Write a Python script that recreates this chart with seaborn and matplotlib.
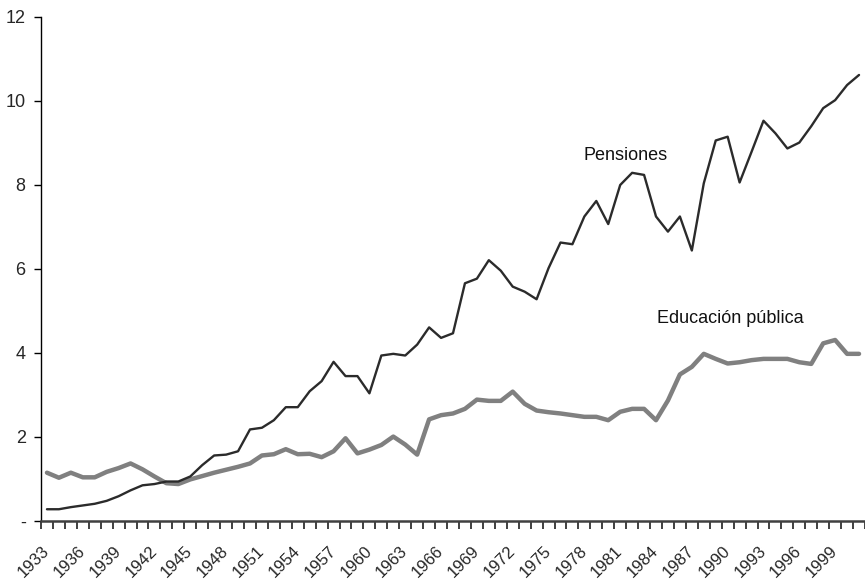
import numpy as np
import pandas as pd
import matplotlib.pyplot as plt
import seaborn as sns
from matplotlib.ticker import FixedLocator

# Data (1933-2001)
years = list(range(1933, 2002))

pensiones = [0.28, 0.28, 0.33, 0.37, 0.41, 0.48, 0.59, 0.73, 0.85, 0.88,
             0.94, 0.94, 1.06, 1.33, 1.56, 1.58, 1.66, 2.18, 2.22, 2.40,
             2.71, 2.71, 3.09, 3.33, 3.79, 3.45, 3.45, 3.04, 3.94, 3.98,
             3.94, 4.20, 4.61, 4.36, 4.47, 5.66, 5.77, 6.21, 5.96, 5.58,
             5.46, 5.28, 6.02, 6.63, 6.59, 7.25, 7.62, 7.07, 8.00, 8.29,
             8.24, 7.25, 6.89, 7.25, 6.44, 8.04, 9.06, 9.15, 8.06, 8.79,
             9.53, 9.23, 8.87, 9.01, 9.40, 9.83, 10.02, 10.38, 10.62]

educacion = [1.15, 1.03, 1.15, 1.04, 1.04, 1.17, 1.26, 1.37, 1.23, 1.06,
             0.90, 0.88, 0.99, 1.07, 1.15, 1.22, 1.29, 1.37, 1.56, 1.59,
             1.71, 1.59, 1.60, 1.52, 1.66, 1.97, 1.61, 1.70, 1.81, 2.01,
             1.82, 1.58, 2.42, 2.52, 2.56, 2.67, 2.89, 2.86, 2.86, 3.08,
             2.79, 2.63, 2.59, 2.56, 2.52, 2.48, 2.48, 2.40, 2.60, 2.67,
             2.67, 2.40, 2.87, 3.49, 3.67, 3.98, 3.86, 3.75, 3.78, 3.83,
             3.86, 3.86, 3.86, 3.78, 3.74, 4.23, 4.31, 3.98, 3.98]

y_ticks = [0, 2, 4, 6, 8, 10, 12]
y_labels = ["-", "2", "4", "6", "8", "10", "12"]
x_label_years = list(range(1933, 2002, 3))

df = pd.DataFrame({"Año": years, "Pensiones": pensiones, "Educación pública": educacion})

sns.set_style("ticks")
plt.rcParams["font.family"] = ["Liberation Sans", "DejaVu Sans"]

fig = plt.figure(figsize=(8.65, 5.85), dpi=100)
ax = fig.add_axes([41 / 865, 1 - 521 / 585, 824 / 865, 504 / 585])

sns.lineplot(data=df, x="Año", y="Educación pública", color="#808080", linewidth=3.2, ax=ax)
sns.lineplot(data=df, x="Año", y="Pensiones", color="#2b2b2b", linewidth=1.7, ax=ax)

ax.set_xlim(1932.5, 2001.5)
ax.set_ylim(0, 12)
ax.set_xlabel("")
ax.set_ylabel("")

ax.set_yticks(y_ticks)
ax.set_yticklabels(y_labels, fontsize=13)
ax.tick_params(axis="y", length=5, width=1, color="black", pad=6)

ax.set_xticks(x_label_years)
ax.set_xticklabels([str(y) for y in x_label_years], fontsize=12, rotation=45,
                   ha="right", va="center", rotation_mode="anchor")
ax.tick_params(axis="x", which="major", length=0, pad=20)
ax.xaxis.set_minor_locator(FixedLocator(np.arange(1932.5, 2002, 1)))
ax.tick_params(axis="x", which="minor", length=6, width=1.4, color="#404040")

sns.despine(ax=ax)
ax.spines["left"].set_color("black")
ax.spines["left"].set_linewidth(1)
ax.spines["bottom"].set_color("#404040")
ax.spines["bottom"].set_linewidth(1.8)
ax.spines["bottom"].set_clip_on(False)

ax.text(1977.9, 8.6, "Pensiones", fontsize=13, ha="left", va="baseline", color="#111111")
ax.text(1984.1, 4.72, "Educación pública", fontsize=13, ha="left", va="baseline", color="#111111")

fig.savefig("out.png", dpi=100)
